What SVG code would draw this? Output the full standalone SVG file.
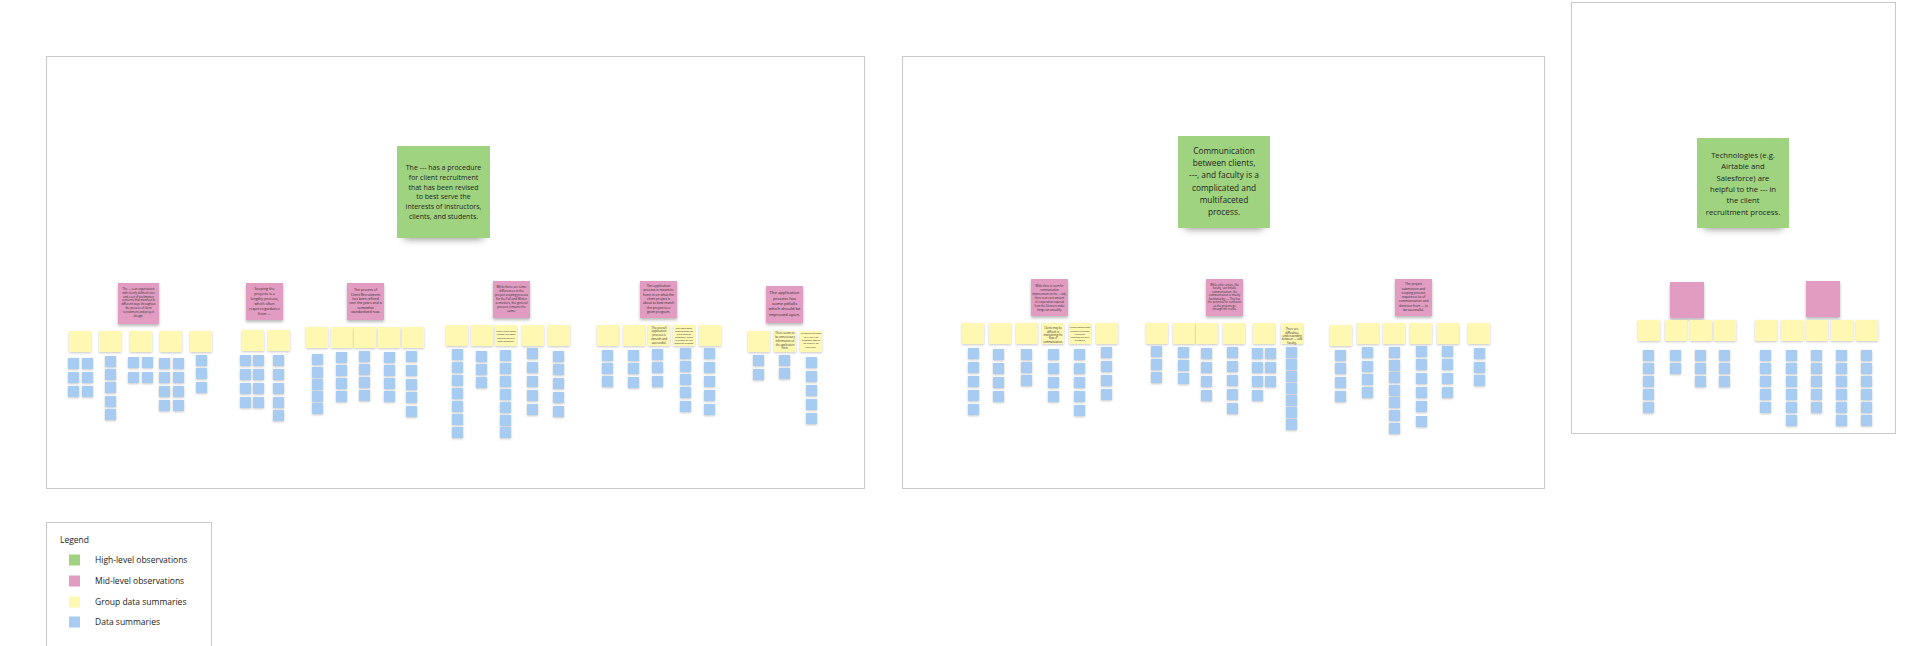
<svg xmlns="http://www.w3.org/2000/svg" xmlns:xlink="http://www.w3.org/1999/xlink" width="1910" height="646" viewBox="0 0 1910 646">
<style>
.frame{fill:#ffffff;stroke:#c9c9c9;stroke-width:1}
.gt{font-family:"Open Sans","Noto Sans","DejaVu Sans",sans-serif;fill:#1e1e1e;text-anchor:middle}
.pt{font-family:"Open Sans","Noto Sans","DejaVu Sans",sans-serif;fill:#2a2a2a;text-anchor:middle}
.lt{font-family:"Open Sans","Noto Sans","DejaVu Sans",sans-serif;fill:#222;font-size:8.5px}
.pk{fill:#e29cc1}
</style>
<defs>
<filter id="shS" x="-30%" y="-30%" width="160%" height="170%"><feDropShadow dx="0" dy="1" stdDeviation="0.8" flood-color="#000" flood-opacity="0.22"/></filter>
<filter id="shP" x="-30%" y="-30%" width="160%" height="170%"><feDropShadow dx="0" dy="2" stdDeviation="1.6" flood-color="#000" flood-opacity="0.28"/></filter>
<filter id="blur" x="-30%" y="-100%" width="160%" height="300%"><feGaussianBlur stdDeviation="4"/></filter>
<rect id="bn" width="11" height="11" fill="#a8cbf2" filter="url(#shS)"/>
<rect id="yn" width="22" height="21" fill="#fff8b3" filter="url(#shS)"/>
<rect id="pn" width="37" height="37" fill="#e29cc1" filter="url(#shP)"/>
</defs>
<rect width="1910" height="646" fill="#ffffff"/>

<g id="frames">
<rect class="frame" x="46.5" y="56.5" width="818" height="432"/>
<rect class="frame" x="902.5" y="56.5" width="642" height="432"/>
<rect class="frame" x="1571.5" y="2.5" width="324" height="431"/>
</g>

<g id="connectors"></g>

<!-- Frame 1 high-level -->
<g id="h1">
<rect x="404" y="226" width="79" height="12" fill="#000" opacity="0.55" filter="url(#blur)"/>
<rect x="397" y="146" width="93" height="92" fill="#9fd37f"/>
<text class="gt" x="443.5" y="170" font-size="7"><tspan x="443.5">The --- has a procedure</tspan><tspan x="443.5" dy="9.8">for client recruitment</tspan><tspan x="443.5" dy="9.8">that  has been revised</tspan><tspan x="443.5" dy="9.8">to best serve the</tspan><tspan x="443.5" dy="9.8">interests of instructors,</tspan><tspan x="443.5" dy="9.8">clients, and students.</tspan></text>
</g>
<g id="h2">
<rect x="1185" y="216" width="78" height="12" fill="#000" opacity="0.55" filter="url(#blur)"/>
<rect x="1178" y="136" width="92" height="92" fill="#9fd37f"/>
<text class="gt" x="1224" y="154" font-size="8.3"><tspan x="1224">Communication</tspan><tspan x="1224" dy="12.2">between clients,</tspan><tspan x="1224" dy="12.2">---, and faculty is a</tspan><tspan x="1224" dy="12.2">complicated and</tspan><tspan x="1224" dy="12.2">multifaceted</tspan><tspan x="1224" dy="12.2">process.</tspan></text>
</g>
<g id="h3">
<rect x="1704" y="216" width="78" height="12" fill="#000" opacity="0.55" filter="url(#blur)"/>
<rect x="1697" y="138" width="92" height="90" fill="#9fd37f"/>
<text class="gt" x="1743" y="158" font-size="7.7"><tspan x="1743">Technologies (e.g.</tspan><tspan x="1743" dy="11.3">Airtable and</tspan><tspan x="1743" dy="11.3">Salesforce) are</tspan><tspan x="1743" dy="11.3">helpful to the --- in</tspan><tspan x="1743" dy="11.3">the client</tspan><tspan x="1743" dy="11.3">recruitment process.</tspan></text>
</g>

<!-- Mid-level observations -->
<g id="m1">
<rect x="118" y="283" width="41" height="41" class="pk" filter="url(#shP)"/>
<text class="pt" x="138.5" y="290" font-size="2.8"><tspan x="138.5">The --- is an organization</tspan><tspan x="138.5" dy="3.8">with clearly defined roles</tspan><tspan x="138.5" dy="3.8">and a set of preliminary</tspan><tspan x="138.5" dy="3.8">concerns that manifest in</tspan><tspan x="138.5" dy="3.8">different ways throughout</tspan><tspan x="138.5" dy="3.8">the process of client</tspan><tspan x="138.5" dy="3.8">recruitment and project</tspan><tspan x="138.5" dy="3.8">design.</tspan></text>
</g>
<g id="m2">
<use href="#pn" x="246" y="283"/>
<text class="pt" x="264.5" y="290.3" font-size="3.7"><tspan x="264.5">Scoping the</tspan><tspan x="264.5" dy="4.9">projects is a</tspan><tspan x="264.5" dy="4.9">lengthy process,</tspan><tspan x="264.5" dy="4.9">which often</tspan><tspan x="264.5" dy="4.9">requires guidance</tspan><tspan x="264.5" dy="4.9">from ---</tspan></text>
</g>
<g id="m3">
<use href="#pn" x="347" y="283"/>
<text class="pt" x="365.5" y="291.3" font-size="3.4"><tspan x="365.5">The process of</tspan><tspan x="365.5" dy="4.3">Client Recruitment</tspan><tspan x="365.5" dy="4.3">has been refined</tspan><tspan x="365.5" dy="4.3">over the years and is</tspan><tspan x="365.5" dy="4.3">somewhat</tspan><tspan x="365.5" dy="4.3">standardized now.</tspan></text>
</g>
<g id="m4">
<use href="#pn" x="493" y="281"/>
<text class="pt" x="511.5" y="287.8" font-size="3"><tspan x="511.5">While there are some</tspan><tspan x="511.5" dy="4">differences in the</tspan><tspan x="511.5" dy="4">project scoping process</tspan><tspan x="511.5" dy="4">for the Fall and Winter</tspan><tspan x="511.5" dy="4">semesters, the general</tspan><tspan x="511.5" dy="4">process remains the</tspan><tspan x="511.5" dy="4">same.</tspan></text>
</g>
<g id="m5">
<use href="#pn" x="640" y="281"/>
<text class="pt" x="658.5" y="287" font-size="3.3"><tspan x="658.5">The application</tspan><tspan x="658.5" dy="4.3">process is meant to</tspan><tspan x="658.5" dy="4.3">hone in on what the</tspan><tspan x="658.5" dy="4.3">client project is</tspan><tspan x="658.5" dy="4.3">about to best match</tspan><tspan x="658.5" dy="4.3">the project to a</tspan><tspan x="658.5" dy="4.3">given program.</tspan></text>
</g>
<g id="m6">
<use href="#pn" x="766" y="286"/>
<text class="pt" x="784.5" y="294.2" font-size="4.2"><tspan x="784.5">The application</tspan><tspan x="784.5" dy="5.4">process has</tspan><tspan x="784.5" dy="5.4">some pitfalls</tspan><tspan x="784.5" dy="5.4">which should be</tspan><tspan x="784.5" dy="5.4">improved upon.</tspan></text>
</g>
<g id="m7">
<use href="#pn" x="1031" y="279"/>
<text class="pt" x="1049.5" y="286.9" font-size="2.6"><tspan x="1049.5">While there is room for</tspan><tspan x="1049.5" dy="4">communication</tspan><tspan x="1049.5" dy="4">improvement on the --- side,</tspan><tspan x="1049.5" dy="4">there is an even amount</tspan><tspan x="1049.5" dy="4">of cooperation required</tspan><tspan x="1049.5" dy="4">from the Clients to make</tspan><tspan x="1049.5" dy="4">things run smoothly.</tspan></text>
</g>
<g id="m8">
<use href="#pn" x="1206" y="279"/>
<text class="pt" x="1224.5" y="285.9" font-size="2.7"><tspan x="1224.5">While other actors, like</tspan><tspan x="1224.5" dy="3.5">faculty, can initiate</tspan><tspan x="1224.5" dy="3.5">communication, the</tspan><tspan x="1224.5" dy="3.5">communication is mostly</tspan><tspan x="1224.5" dy="3.5">facilitated by ---. This has</tspan><tspan x="1224.5" dy="3.5">the potential for confusion</tspan><tspan x="1224.5" dy="3.5">as the projects go</tspan><tspan x="1224.5" dy="3.5">through the cracks.</tspan></text>
</g>
<g id="m9">
<use href="#pn" x="1395" y="279"/>
<text class="pt" x="1413.5" y="285.2" font-size="3.2"><tspan x="1413.5">The project</tspan><tspan x="1413.5" dy="4.3">submission and</tspan><tspan x="1413.5" dy="4.3">scoping process</tspan><tspan x="1413.5" dy="4.3">requires a lot of</tspan><tspan x="1413.5" dy="4.3">communication and</tspan><tspan x="1413.5" dy="4.3">direction from --- to</tspan><tspan x="1413.5" dy="4.3">be successful.</tspan></text>
</g>
<g id="m10"><rect x="1670" y="282" width="34" height="36" class="pk" filter="url(#shP)"/></g>
<g id="m11"><rect x="1806" y="281" width="34" height="36" class="pk" filter="url(#shP)"/></g>

<!-- Cluster A -->
<g id="a1"><use href="#yn" x="69" y="331"/><use href="#bn" x="68" y="358"/><use href="#bn" x="68" y="372"/><use href="#bn" x="68" y="386"/><use href="#bn" x="82" y="358"/><use href="#bn" x="82" y="372"/><use href="#bn" x="82" y="386"/></g>
<g id="a2"><use href="#yn" x="99" y="331"/><use href="#bn" x="105" y="356"/><use href="#bn" x="105" y="369"/><use href="#bn" x="105" y="382"/><use href="#bn" x="105" y="396"/><use href="#bn" x="105" y="409"/></g>
<g id="a3"><use href="#yn" x="130" y="331"/><use href="#bn" x="128" y="357"/><use href="#bn" x="128" y="372"/><use href="#bn" x="142" y="357"/><use href="#bn" x="142" y="372"/></g>
<g id="a4"><use href="#yn" x="160" y="331"/><use href="#bn" x="159" y="358"/><use href="#bn" x="159" y="372"/><use href="#bn" x="159" y="386"/><use href="#bn" x="159" y="400"/><use href="#bn" x="173" y="358"/><use href="#bn" x="173" y="372"/><use href="#bn" x="173" y="386"/><use href="#bn" x="173" y="400"/></g>
<g id="a5"><use href="#yn" x="190" y="331"/><use href="#bn" x="196" y="355"/><use href="#bn" x="196" y="368"/><use href="#bn" x="196" y="382"/></g>

<!-- Cluster B -->
<g id="b1"><use href="#yn" x="242" y="330"/><use href="#bn" x="240" y="355"/><use href="#bn" x="240" y="369"/><use href="#bn" x="240" y="383"/><use href="#bn" x="240" y="397"/><use href="#bn" x="253" y="355"/><use href="#bn" x="253" y="369"/><use href="#bn" x="253" y="383"/><use href="#bn" x="253" y="397"/></g>
<g id="b2"><use href="#yn" x="268" y="330"/><use href="#bn" x="273" y="355"/><use href="#bn" x="273" y="369"/><use href="#bn" x="273" y="383"/><use href="#bn" x="273" y="397"/><use href="#bn" x="273" y="410"/></g>

<!-- Cluster C -->
<g id="c1"><use href="#yn" x="306" y="327"/><use href="#bn" x="312" y="354"/><use href="#bn" x="312" y="367"/><use href="#bn" x="312" y="379"/><use href="#bn" x="312" y="391"/><use href="#bn" x="312" y="403"/></g>
<g id="c2"><use href="#yn" x="331" y="327"/><use href="#bn" x="336" y="352"/><use href="#bn" x="336" y="365"/><use href="#bn" x="336" y="378"/><use href="#bn" x="336" y="391"/></g>
<g id="c3"><use href="#yn" x="354" y="327"/><use href="#bn" x="359" y="351"/><use href="#bn" x="359" y="364"/><use href="#bn" x="359" y="377"/><use href="#bn" x="359" y="390"/></g>
<g id="c4"><use href="#yn" x="378" y="327"/><use href="#bn" x="384" y="352"/><use href="#bn" x="384" y="365"/><use href="#bn" x="384" y="378"/><use href="#bn" x="384" y="391"/></g>
<g id="c5"><use href="#yn" x="402" y="327"/><use href="#bn" x="406" y="351"/><use href="#bn" x="406" y="365"/><use href="#bn" x="406" y="379"/><use href="#bn" x="406" y="392"/><use href="#bn" x="406" y="406"/></g>

<!-- Cluster D -->
<g id="d1"><use href="#yn" x="446" y="325"/><use href="#bn" x="452" y="349"/><use href="#bn" x="452" y="362"/><use href="#bn" x="452" y="375"/><use href="#bn" x="452" y="388"/><use href="#bn" x="452" y="401"/><use href="#bn" x="452" y="414"/><use href="#bn" x="452" y="427"/></g>
<g id="d2"><use href="#yn" x="471" y="325"/><use href="#bn" x="476" y="351"/><use href="#bn" x="476" y="364"/><use href="#bn" x="476" y="377"/></g>
<g id="d3"><use href="#yn" x="495" y="325"/>
<text class="pt" x="506" y="331.9" font-size="2.4"><tspan x="506">Client recruitment</tspan><tspan x="506" dy="3.3">follows the same</tspan><tspan x="506" dy="3.3">general pattern</tspan><tspan x="506" dy="3.3">each semester.</tspan></text>
<use href="#bn" x="500" y="350"/><use href="#bn" x="500" y="363"/><use href="#bn" x="500" y="376"/><use href="#bn" x="500" y="389"/><use href="#bn" x="500" y="402"/><use href="#bn" x="500" y="415"/><use href="#bn" x="500" y="427"/></g>
<g id="d4"><use href="#yn" x="522" y="325"/><use href="#bn" x="527" y="348"/><use href="#bn" x="527" y="362"/><use href="#bn" x="527" y="376"/><use href="#bn" x="527" y="390"/><use href="#bn" x="527" y="404"/></g>
<g id="d5"><use href="#yn" x="548" y="325"/><use href="#bn" x="553" y="351"/><use href="#bn" x="553" y="364"/><use href="#bn" x="553" y="378"/><use href="#bn" x="553" y="392"/><use href="#bn" x="553" y="406"/></g>

<!-- Cluster E -->
<g id="e1"><use href="#yn" x="597" y="325"/><use href="#bn" x="602" y="350"/><use href="#bn" x="602" y="363"/><use href="#bn" x="602" y="376"/></g>
<g id="e2"><use href="#yn" x="623" y="325"/><use href="#bn" x="628" y="350"/><use href="#bn" x="628" y="363"/><use href="#bn" x="628" y="377"/></g>
<g id="e3"><use href="#yn" x="648" y="325"/>
<text class="pt" x="659" y="328.6" font-size="2.9"><tspan x="659">The overall</tspan><tspan x="659" dy="3.8">application</tspan><tspan x="659" dy="3.8">process is</tspan><tspan x="659" dy="3.8">smooth and</tspan><tspan x="659" dy="3.8">successful.</tspan></text>
<use href="#bn" x="652" y="349"/><use href="#bn" x="652" y="362"/><use href="#bn" x="652" y="376"/></g>
<g id="e4"><use href="#yn" x="673" y="325"/>
<text class="pt" x="684" y="328.5" font-size="2.3"><tspan x="684">The application</tspan><tspan x="684" dy="3">process asks the</tspan><tspan x="684" dy="3">client specific</tspan><tspan x="684" dy="3">questions, which</tspan><tspan x="684" dy="3">is helpful for the</tspan><tspan x="684" dy="3">matching process.</tspan></text>
<use href="#bn" x="680" y="348"/><use href="#bn" x="680" y="361"/><use href="#bn" x="680" y="374"/><use href="#bn" x="680" y="387"/><use href="#bn" x="680" y="401"/></g>
<g id="e5"><use href="#yn" x="699" y="325"/><use href="#bn" x="704" y="348"/><use href="#bn" x="704" y="362"/><use href="#bn" x="704" y="376"/><use href="#bn" x="704" y="390"/><use href="#bn" x="704" y="404"/></g>

<!-- Cluster F -->
<g id="f1"><use href="#yn" x="748" y="331"/><use href="#bn" x="753" y="355"/><use href="#bn" x="753" y="369"/></g>
<g id="f2"><use href="#yn" x="774" y="331"/>
<text class="pt" x="785" y="334.4" font-size="2.7"><tspan x="785">There seems to</tspan><tspan x="785" dy="3.7">be unnecessary</tspan><tspan x="785" dy="3.7">information on</tspan><tspan x="785" dy="3.7">the application</tspan><tspan x="785" dy="3.7">form.</tspan></text>
<use href="#bn" x="779" y="355"/><use href="#bn" x="779" y="368"/></g>
<g id="f3"><use href="#yn" x="800" y="331"/>
<text class="pt" x="811" y="334.3" font-size="2.5"><tspan x="811">Guidance on how</tspan><tspan x="811" dy="3.3">to fill out the</tspan><tspan x="811" dy="3.3">proposal would</tspan><tspan x="811" dy="3.3">be helpful for</tspan><tspan x="811" dy="3.3">the client.</tspan></text>
<use href="#bn" x="806" y="357"/><use href="#bn" x="806" y="371"/><use href="#bn" x="806" y="385"/><use href="#bn" x="806" y="399"/><use href="#bn" x="806" y="413"/></g>

<!-- Cluster G -->
<g id="g1"><use href="#yn" x="962" y="323"/><use href="#bn" x="968" y="348"/><use href="#bn" x="968" y="362"/><use href="#bn" x="968" y="376"/><use href="#bn" x="968" y="390"/><use href="#bn" x="968" y="404"/></g>
<g id="g2"><use href="#yn" x="989" y="323"/><use href="#bn" x="993" y="349"/><use href="#bn" x="993" y="363"/><use href="#bn" x="993" y="377"/><use href="#bn" x="993" y="391"/></g>
<g id="g3"><use href="#yn" x="1016" y="323"/><use href="#bn" x="1021" y="349"/><use href="#bn" x="1021" y="362"/><use href="#bn" x="1021" y="375"/></g>
<g id="g4"><use href="#yn" x="1042" y="323"/>
<text class="pt" x="1053" y="329.3" font-size="2.6"><tspan x="1053">Clients may be</tspan><tspan x="1053" dy="3.3">difficult in</tspan><tspan x="1053" dy="3.3">maintaining the</tspan><tspan x="1053" dy="3.3">flow of</tspan><tspan x="1053" dy="3.3">communication.</tspan></text>
<use href="#bn" x="1048" y="349"/><use href="#bn" x="1048" y="363"/><use href="#bn" x="1048" y="377"/><use href="#bn" x="1048" y="391"/></g>
<g id="g5"><use href="#yn" x="1069" y="323"/>
<text class="pt" x="1080" y="328.2" font-size="2.4"><tspan x="1080">Clients sometimes</tspan><tspan x="1080" dy="3.3">struggle to share</tspan><tspan x="1080" dy="3.3">technical</tspan><tspan x="1080" dy="3.3">information with</tspan><tspan x="1080" dy="3.3">students.</tspan></text>
<use href="#bn" x="1074" y="349"/><use href="#bn" x="1074" y="363"/><use href="#bn" x="1074" y="377"/><use href="#bn" x="1074" y="391"/><use href="#bn" x="1074" y="405"/></g>
<g id="g6"><use href="#yn" x="1096" y="323"/><use href="#bn" x="1101" y="347"/><use href="#bn" x="1101" y="361"/><use href="#bn" x="1101" y="375"/><use href="#bn" x="1101" y="389"/></g>

<!-- Cluster H -->
<g id="h-1"><use href="#yn" x="1146" y="323"/><use href="#bn" x="1151" y="346"/><use href="#bn" x="1151" y="359"/><use href="#bn" x="1151" y="372"/></g>
<g id="h-2"><use href="#yn" x="1173" y="323"/><use href="#bn" x="1178" y="347"/><use href="#bn" x="1178" y="360"/><use href="#bn" x="1178" y="373"/></g>
<g id="h-3"><use href="#yn" x="1196" y="323"/><use href="#bn" x="1201" y="348"/><use href="#bn" x="1201" y="362"/><use href="#bn" x="1201" y="376"/><use href="#bn" x="1201" y="390"/></g>
<g id="h-4"><use href="#yn" x="1223" y="323"/><use href="#bn" x="1227" y="347"/><use href="#bn" x="1227" y="361"/><use href="#bn" x="1227" y="375"/><use href="#bn" x="1227" y="389"/><use href="#bn" x="1227" y="403"/></g>
<g id="h-5"><use href="#yn" x="1253" y="323"/><use href="#bn" x="1252" y="348"/><use href="#bn" x="1252" y="362"/><use href="#bn" x="1252" y="376"/><use href="#bn" x="1252" y="390"/><use href="#bn" x="1265" y="348"/><use href="#bn" x="1265" y="362"/><use href="#bn" x="1265" y="376"/></g>
<g id="h-6"><use href="#yn" x="1281" y="323"/>
<text class="pt" x="1292" y="330.4" font-size="2.8"><tspan x="1292">There are</tspan><tspan x="1292" dy="3.3">difficulties</tspan><tspan x="1292" dy="3.3">understanding</tspan><tspan x="1292" dy="3.3">between --- and</tspan><tspan x="1292" dy="3.3">faculty.</tspan></text>
<use href="#bn" x="1286" y="347"/><use href="#bn" x="1286" y="359"/><use href="#bn" x="1286" y="371"/><use href="#bn" x="1286" y="383"/><use href="#bn" x="1286" y="395"/><use href="#bn" x="1286" y="407"/><use href="#bn" x="1286" y="419"/></g>

<!-- Cluster I -->
<g id="i1"><use href="#yn" x="1330" y="325"/><use href="#bn" x="1335" y="350"/><use href="#bn" x="1335" y="363"/><use href="#bn" x="1335" y="377"/><use href="#bn" x="1335" y="391"/></g>
<g id="i2"><use href="#yn" x="1357" y="323"/><use href="#bn" x="1362" y="347"/><use href="#bn" x="1362" y="361"/><use href="#bn" x="1362" y="374"/><use href="#bn" x="1362" y="387"/></g>
<g id="i3"><use href="#yn" x="1383" y="323"/><use href="#bn" x="1389" y="347"/><use href="#bn" x="1389" y="360"/><use href="#bn" x="1389" y="372"/><use href="#bn" x="1389" y="385"/><use href="#bn" x="1389" y="397"/><use href="#bn" x="1389" y="410"/><use href="#bn" x="1389" y="423"/></g>
<g id="i4"><use href="#yn" x="1410" y="323"/><use href="#bn" x="1416" y="346"/><use href="#bn" x="1416" y="359"/><use href="#bn" x="1416" y="373"/><use href="#bn" x="1416" y="387"/><use href="#bn" x="1416" y="401"/><use href="#bn" x="1416" y="416"/></g>
<g id="i5"><use href="#yn" x="1437" y="323"/><use href="#bn" x="1442" y="346"/><use href="#bn" x="1442" y="359"/><use href="#bn" x="1442" y="373"/><use href="#bn" x="1442" y="387"/></g>
<g id="i6"><use href="#yn" x="1468" y="323"/><use href="#bn" x="1474" y="348"/><use href="#bn" x="1474" y="362"/><use href="#bn" x="1474" y="375"/></g>

<!-- Cluster J -->
<g id="j1"><use href="#yn" x="1638" y="320"/><use href="#bn" x="1643" y="350"/><use href="#bn" x="1643" y="363"/><use href="#bn" x="1643" y="376"/><use href="#bn" x="1643" y="389"/><use href="#bn" x="1643" y="402"/></g>
<g id="j2"><use href="#yn" x="1665" y="320"/><use href="#bn" x="1670" y="350"/><use href="#bn" x="1670" y="363"/></g>
<g id="j3"><use href="#yn" x="1690" y="320"/><use href="#bn" x="1695" y="350"/><use href="#bn" x="1695" y="363"/><use href="#bn" x="1695" y="376"/></g>
<g id="j4"><use href="#yn" x="1714" y="320"/><use href="#bn" x="1719" y="350"/><use href="#bn" x="1719" y="363"/><use href="#bn" x="1719" y="376"/></g>

<!-- Cluster K -->
<g id="k1"><use href="#yn" x="1755" y="320"/><use href="#bn" x="1760" y="350"/><use href="#bn" x="1760" y="363"/><use href="#bn" x="1760" y="376"/><use href="#bn" x="1760" y="389"/><use href="#bn" x="1760" y="402"/></g>
<g id="k2"><use href="#yn" x="1781" y="320"/><use href="#bn" x="1786" y="350"/><use href="#bn" x="1786" y="363"/><use href="#bn" x="1786" y="376"/><use href="#bn" x="1786" y="389"/><use href="#bn" x="1786" y="402"/><use href="#bn" x="1786" y="415"/></g>
<g id="k3"><use href="#yn" x="1806" y="320"/><use href="#bn" x="1811" y="350"/><use href="#bn" x="1811" y="363"/><use href="#bn" x="1811" y="376"/><use href="#bn" x="1811" y="389"/><use href="#bn" x="1811" y="402"/></g>
<g id="k4"><use href="#yn" x="1831" y="320"/><use href="#bn" x="1836" y="350"/><use href="#bn" x="1836" y="363"/><use href="#bn" x="1836" y="376"/><use href="#bn" x="1836" y="389"/><use href="#bn" x="1836" y="402"/><use href="#bn" x="1836" y="415"/></g>
<g id="k5"><use href="#yn" x="1856" y="320"/><use href="#bn" x="1861" y="350"/><use href="#bn" x="1861" y="363"/><use href="#bn" x="1861" y="376"/><use href="#bn" x="1861" y="389"/><use href="#bn" x="1861" y="402"/><use href="#bn" x="1861" y="415"/></g>

<!-- Legend -->
<g id="legend">
<rect class="frame" x="46.5" y="522.5" width="165" height="130"/>
<text class="lt" x="60" y="543">Legend</text>
<rect x="69" y="554.5" width="11" height="11" fill="#9fd37f"/>
<text class="lt" x="95" y="563">High-level observations</text>
<rect x="69" y="575.5" width="11" height="11" fill="#e29cc1"/>
<text class="lt" x="95" y="584">Mid-level observations</text>
<rect x="69" y="596.5" width="11" height="11" fill="#fff8b3"/>
<text class="lt" x="95" y="605">Group data summaries</text>
<rect x="69" y="616.5" width="11" height="11" fill="#a8cbf2"/>
<text class="lt" x="95" y="625">Data summaries</text>
</g>
</svg>
